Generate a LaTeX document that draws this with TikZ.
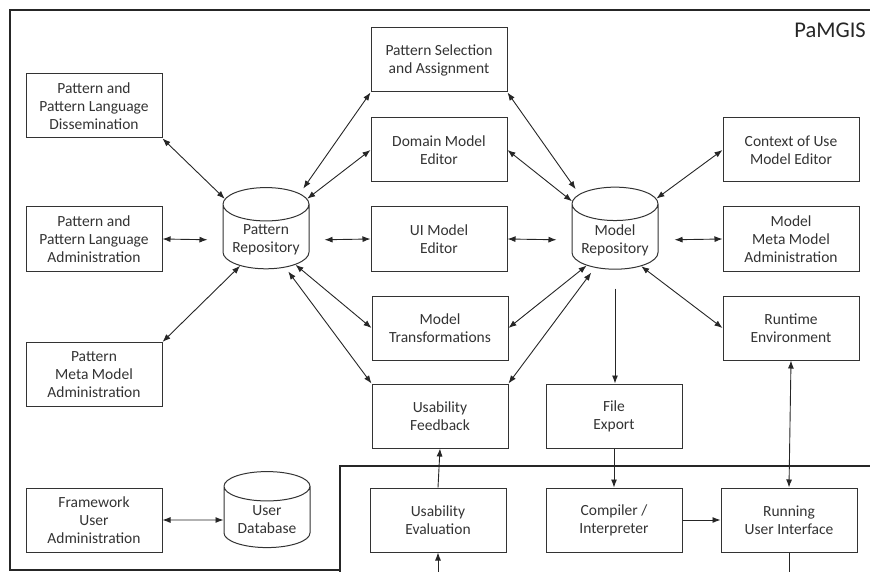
\documentclass[tikz,border=0pt]{standalone}
\usepackage{fontspec}
\setmainfont{Carlito}
\usetikzlibrary{arrows.meta,positioning,shapes.geometric}

\begin{document}
\begin{tikzpicture}[
    x=1pt, y=-1pt,
    >={Latex[length=8pt,width=6pt]},
    modulo/.style={rectangle, draw=black!80, line width=1pt, minimum width=136pt, minimum height=64pt, align=center, font=\fontsize{15.5}{18}\selectfont, text=black!80},
    repositorio/.style={cylinder, shape border rotate=90, aspect=0.45, draw=black!80, line width=1pt, minimum width=86pt, minimum height=76pt, align=center, font=\fontsize{15.5}{18}\selectfont, text=black!80},
    ligacao/.style={<->, line width=0.9pt, black!85},
    fluxo/.style={->, line width=0.9pt, black!85},
    moldura/.style={line width=1.8pt, black!85}
]
\useasboundingbox (0,0) rectangle (870,572);
% ---------- molduras ----------
\draw[moldura] (870,10) -- (10,10) -- (10,570) -- (340,570);
\draw[moldura] (340,572) -- (340,466) -- (870,466);
\node[anchor=east, inner sep=0pt, font=\fontsize{22.5}{26}\selectfont, text=black!85] (titulo) at (866,30) {PaMGIS};
% ---------- coluna esquerda ----------
\node[modulo] (dissem) at (94,106) {Pattern and\\Pattern Language\\Dissemination};
\node[modulo] (padmin) at (94,239) {Pattern and\\Pattern Language\\Administration};
\node[modulo] (pmeta)  at (94,374.5) {Pattern\\Meta Model\\Administration};
\node[modulo] (fua)    at (94,520) {Framework\\User\\Administration};
\node[repositorio] (udb)   at (267,520) {User\\Database};
\node[repositorio] (prepo) at (266,240) {Pattern\\Repository};
% ---------- coluna central ----------
\node[modulo] (psel)   at (439,60)  {Pattern Selection\\and Assignment};
\node[modulo] (dme)    at (439,150) {Domain Model\\Editor};
\node[modulo] (uime)   at (439,239) {UI Model\\Editor};
\node[modulo] (mtrans) at (440,328) {Model\\Transformations};
\node[modulo] (ufb)    at (440,416) {Usability\\Feedback};
\node[modulo] (ueval)  at (438,520) {Usability\\Evaluation};
\node[repositorio] (mrepo) at (615,240) {Model\\Repository};
\node[modulo] (fexp)   at (614,416) {File\\Export};
\node[modulo] (comp)   at (614,520) {Compiler /\\Interpreter};
% ---------- coluna direita ----------
\node[modulo] (cou)    at (791,150) {Context of Use\\Model Editor};
\node[modulo] (mmeta)  at (791,239) {Model\\Meta Model\\Administration};
\node[modulo] (rte)    at (791,328) {Runtime\\Environment};
\node[modulo] (rui)    at (789,520) {Running\\User Interface};
\coordinate (evalin)  at (438,572);
\coordinate (ruiout)  at (789,572);
% ---------- ligacoes ----------
\draw[ligacao] (dissem.south east) -- (prepo.135);
\draw[ligacao, shorten >=15pt] (padmin.east) -- (prepo.west);
\draw[ligacao] (pmeta.north east) -- (prepo.225);
\draw[ligacao, shorten >=6pt] (psel.south west) -- (prepo.54);
\draw[ligacao] (dme.west) -- (prepo.45);
\draw[ligacao, shorten >=15pt] (uime.west) -- (prepo.east);
\draw[ligacao] (mtrans.west) -- (prepo.-40);
\draw[ligacao, shorten >=5pt] (ufb.north west) -- (prepo.-55);
\draw[ligacao, shorten >=6pt] (psel.south east) -- (mrepo.128);
\draw[ligacao] (dme.east) -- (mrepo.138);
\draw[ligacao, shorten >=15pt] (uime.east) -- (mrepo.west);
\draw[ligacao] (mtrans.east) -- (mrepo.-138);
\draw[ligacao, shorten >=6pt] (ufb.north east) -- (mrepo.-126);
\draw[ligacao] (cou.west) -- (mrepo.45);
\draw[ligacao, shorten >=16pt] (mmeta.west) -- (mrepo.east);
\draw[ligacao] (rte.west) -- (mrepo.-45);
\draw[fluxo, shorten <=19pt] (mrepo.south) -- (mrepo.south |- fexp.north);
\draw[fluxo] (fexp.south) -- (comp.north);
\draw[fluxo] (comp.east) -- (rui.west);
\draw[ligacao] (rte.south) -- (rui.north);
\draw[fluxo] (ueval.north) -- (ufb.south);
\draw[fluxo] (evalin) -- (ueval.south);
\draw[line width=0.9pt, black!85] (rui.south) -- (ruiout);
\draw[ligacao] (fua.east) -- (udb.west);
\end{tikzpicture}
\end{document}
